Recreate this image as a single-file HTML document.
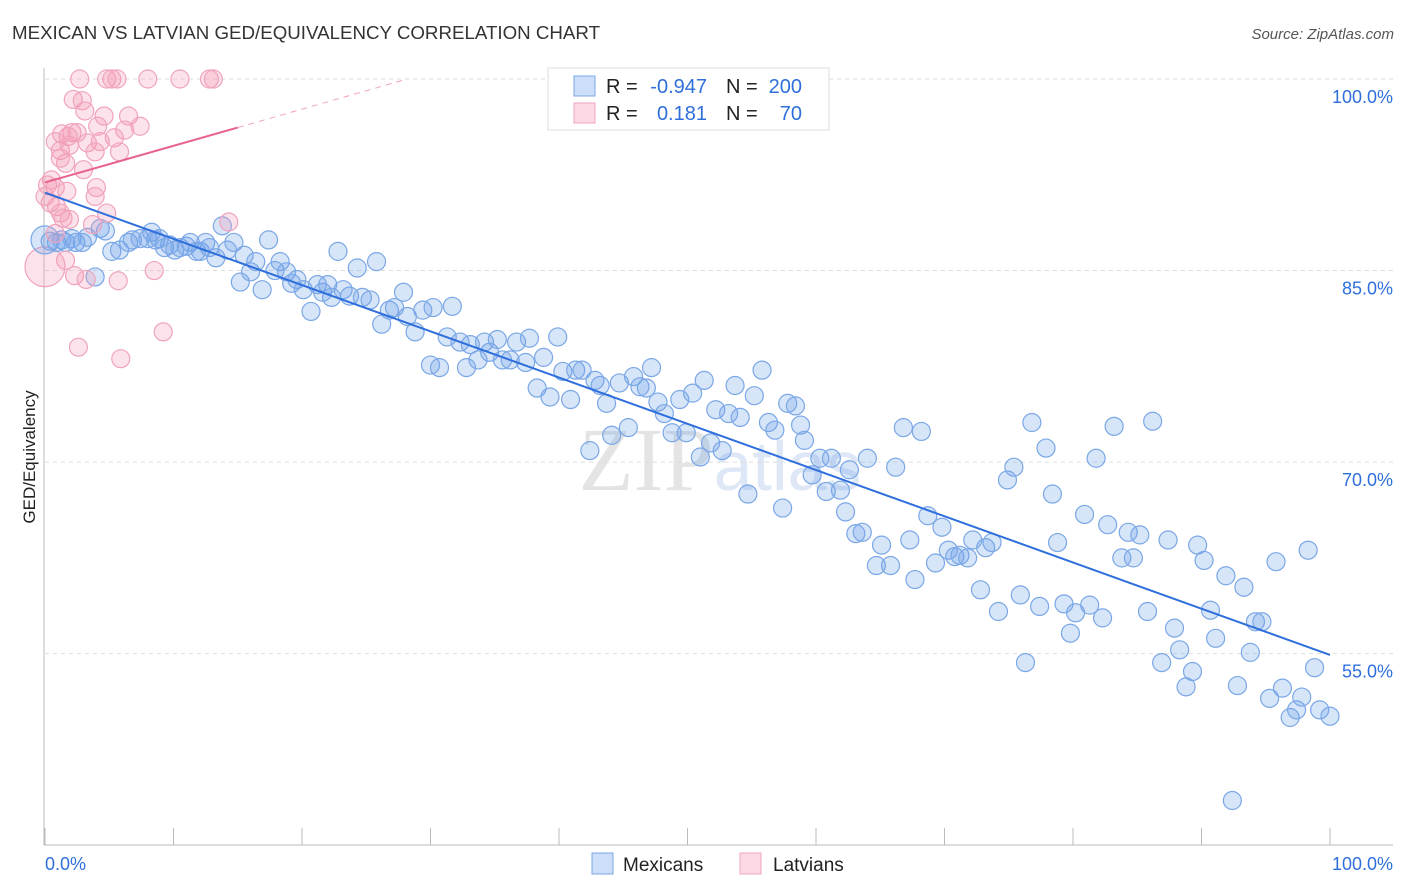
<!DOCTYPE html>
<html><head><meta charset="utf-8"><style>
body{margin:0;background:#fff;font-family:"Liberation Sans",sans-serif;}
svg{display:block}
</style></head><body>
<svg id="chart" width="1406" height="892">
<text x="12" y="39" font-size="18" fill="#333" textLength="588" lengthAdjust="spacingAndGlyphs">MEXICAN VS LATVIAN GED/EQUIVALENCY CORRELATION CHART</text>
<text x="1394" y="39" font-size="15" fill="#555" font-style="italic" text-anchor="end">Source: ZipAtlas.com</text>
<text x="720" y="490" font-size="90" fill="#e4e4e4" text-anchor="middle" font-family="Liberation Serif,serif">ZIP<tspan fill="#dde7f5" font-family="Liberation Sans,sans-serif" font-size="70">atlas</tspan></text>
<g id="grid"></g>
<g id="axes"></g>
<g id="marks"></g>
<text transform="translate(35,457) rotate(-90)" font-size="17" fill="#222" text-anchor="middle">GED/Equivalency</text>
<g>
<rect x="548" y="68" width="281" height="62" fill="#fff" stroke="#ddd"/>
<rect x="574" y="76" width="21" height="20" fill="rgba(110,160,235,0.35)" stroke="#7aa7e6"/>
<rect x="574" y="103" width="21" height="20" fill="rgba(245,150,180,0.35)" stroke="#f0a4bc"/>
<g font-size="20" fill="#222">
<text x="606" y="93">R =</text>
<text x="707" y="93" text-anchor="end" fill="#2f6fdc">-0.947</text>
<text x="726" y="93">N =</text>
<text x="802" y="93" text-anchor="end" fill="#2f6fdc">200</text>
<text x="606" y="120">R =</text>
<text x="707" y="120" text-anchor="end" fill="#2f6fdc">0.181</text>
<text x="726" y="120">N =</text>
<text x="802" y="120" text-anchor="end" fill="#2f6fdc">70</text>
</g>
</g>
<g>
<rect x="592" y="853" width="21" height="21" fill="rgba(110,160,235,0.35)" stroke="#7aa7e6"/>
<text x="623" y="871" font-size="19" fill="#222">Mexicans</text>
<rect x="740" y="853" width="21" height="21" fill="rgba(245,150,180,0.35)" stroke="#f0a4bc"/>
<text x="773" y="871" font-size="19" fill="#222">Latvians</text>
</g>
</svg>
<script>
const yTicks=[100,85,70,55];
const yTickLabels=["100.0%","85.0%","70.0%","55.0%"];
const xTicks=[0,10,20,30,40,50,60,70,80,90,100];
const mexX=[0.4,0.9,1.3,1.6,2.1,2.4,2.9,3.3,3.9,4.3,4.7,5.2,5.8,6.5,6.8,7.4,8.0,8.3,8.6,8.9,9.3,9.7,10.1,10.5,11.0,11.3,11.8,12.1,12.5,12.8,13.3,13.8,14.2,14.7,15.2,15.5,16.0,16.4,16.9,17.4,17.9,18.3,18.8,19.2,19.6,20.1,20.7,21.2,21.6,22.0,22.3,22.8,23.2,23.7,24.3,24.7,25.3,25.8,26.2,26.8,27.2,27.9,28.2,28.8,29.4,30.0,30.2,30.7,31.3,31.7,32.3,32.8,33.1,33.7,34.2,34.6,35.2,35.6,36.2,36.7,37.4,37.7,38.3,38.8,39.3,39.9,40.3,40.9,41.3,41.8,42.4,42.8,43.2,43.7,44.1,44.7,45.4,45.8,46.3,46.8,47.2,47.7,48.2,48.8,49.4,49.9,50.4,51.0,51.3,51.8,52.2,52.7,53.2,53.7,54.1,54.7,55.2,55.8,56.3,56.8,57.4,57.8,58.4,58.8,59.1,59.7,60.3,60.8,61.2,61.9,62.3,62.6,63.1,63.6,64.0,64.7,65.1,65.8,66.2,66.8,67.3,67.7,68.2,68.7,69.3,69.8,70.3,70.8,71.2,71.8,72.2,72.8,73.2,73.7,74.2,74.9,75.4,75.9,76.3,76.8,77.4,77.9,78.4,78.8,79.3,79.8,80.2,80.9,81.3,81.8,82.3,82.7,83.2,83.8,84.3,84.7,85.2,85.8,86.2,86.9,87.4,87.9,88.3,88.8,89.3,89.7,90.2,90.7,91.1,91.9,92.8,93.3,93.8,94.2,94.7,95.3,95.8,96.3,96.9,97.4,97.8,98.3,98.8,99.2,100.0,92.4];
const mexY=[87.3,87.2,87.4,87.2,87.5,87.2,87.2,87.6,84.5,88.3,88.1,86.5,86.6,87.2,87.4,87.5,87.5,88.0,87.4,87.5,86.8,87.0,86.6,86.8,86.9,87.2,86.5,86.5,87.2,86.8,86.0,88.5,86.6,87.2,84.1,86.2,84.9,85.7,83.5,87.4,85.0,85.7,84.9,84.0,84.3,83.5,81.8,83.9,83.3,83.9,82.9,86.5,83.5,83.0,85.2,82.9,82.7,85.7,80.8,81.9,82.1,83.3,81.4,80.2,81.9,77.6,82.1,77.4,79.8,82.2,79.4,77.4,79.2,78.0,79.4,78.6,79.6,78.0,78.0,79.4,77.8,79.7,75.8,78.2,75.1,79.8,77.1,74.9,77.2,77.2,70.9,76.4,76.0,74.6,72.1,76.2,72.7,76.7,75.9,75.8,77.4,74.7,73.8,72.3,74.9,72.3,75.4,70.4,76.4,71.5,74.1,70.9,73.8,76.0,73.5,67.5,75.2,77.2,73.1,72.5,66.4,74.6,74.4,72.9,71.7,69.0,70.3,67.7,70.3,67.8,66.1,69.4,64.4,64.5,70.3,61.9,63.5,61.9,69.6,72.7,63.9,60.8,72.4,65.8,62.1,64.9,63.1,62.6,62.7,62.5,63.9,60.0,63.3,63.7,58.3,68.6,69.6,59.6,54.3,73.1,58.7,71.1,67.5,63.7,58.9,56.6,58.2,65.9,58.8,70.3,57.8,65.1,72.8,62.5,64.5,62.5,64.3,58.3,73.2,54.3,63.9,57.0,55.3,52.4,53.6,63.5,62.3,58.4,56.2,61.1,52.5,60.2,55.1,57.5,57.5,51.5,62.2,52.3,50.0,50.6,51.6,63.1,53.9,50.6,50.1,43.5];
const latX=[2.7,4.8,5.2,5.6,8.0,10.5,12.8,13.1,2.2,2.9,3.1,4.6,6.5,7.4,6.2,4.1,2.1,2.5,1.8,1.3,0.8,3.3,4.3,5.4,1.2,3.9,5.8,1.6,3.0,0.5,0.2,0.8,4.0,1.7,3.9,0.0,0.4,0.9,1.2,4.8,1.4,1.9,3.7,14.3,0.8,1.6,8.5,2.3,3.2,5.7,9.2,2.6,5.9,1.2,1.9];
const latY=[100,100,100,100,100,100,100,100,98.4,98.3,97.5,97.1,97.1,96.3,96.0,96.3,95.8,95.8,95.5,95.7,95.1,95.0,95.1,95.4,94.4,94.3,94.3,93.4,92.9,92.1,91.7,91.5,91.5,91.2,90.8,90.8,90.3,90.0,89.5,89.5,89.1,89.0,88.6,88.8,87.9,85.8,85.0,84.6,84.3,84.2,80.2,79.0,78.1,93.8,94.8];
const bigMex=[0,87.4], bigLat=[0,85.3];
const mexTrend=[[0,91.1],[100,54.9]];
const latTrend=[[0,91.9],[15,96.2]];
const latTrendExt=[[15,96.2],[28.2,100]];

const NS="http://www.w3.org/2000/svg";
const xs=v=>45+v*12.85;
const ys=v=>79+(100-v)*12.77;
function mk(tag,attrs,parent){const e=document.createElementNS(NS,tag);for(const k in attrs)e.setAttribute(k,attrs[k]);parent.appendChild(e);return e;}
const grid=document.getElementById('grid'),axes=document.getElementById('axes'),marks=document.getElementById('marks');
yTicks.forEach((t,i)=>{
  const l=mk('line',{x1:45,x2:1393,y1:ys(t),y2:ys(t),stroke:'#ddd','stroke-dasharray':'4,4'},grid);
  
  
  const tx=mk('text',{x:1393,y:ys(t)+24,'font-size':18,fill:'#2f6fdc','text-anchor':'end'},axes);
  tx.textContent=yTickLabels[i];
  
  
});
const ya=mk('line',{x1:44,x2:44,y1:68,y2:845,stroke:'#bbb'},axes);


const xa=mk('line',{x1:44,x2:1393,y1:845,y2:845,stroke:'#bbb'},axes);


xTicks.forEach(t=>{
  const l=mk('line',{x1:xs(t),x2:xs(t),y1:828,y2:845,stroke:'#bbb'},axes);
  
  
});
const xl0=mk('text',{x:45,y:870,'font-size':18,fill:'#2f6fdc'},axes);xl0.textContent='0.0%';


const xl1=mk('text',{x:1393,y:870,'font-size':18,fill:'#2f6fdc','text-anchor':'end'},axes);xl1.textContent='100.0%';



function pt(x,y,r,fill,stroke,name){
  const c=mk('circle',{cx:xs(x),cy:ys(y),r:r,fill:fill,stroke:stroke,'stroke-width':1.2},marks);
  
  
}
const bF='rgba(110,160,235,0.28)',bS='#7aa7e6',pF='rgba(245,150,180,0.28)',pS='#f0a4bc';
pt(bigLat[0],bigLat[1],20,pF,pS,'latvian-point');
pt(bigMex[0],bigMex[1],14,bF,bS,'mexican-point');
mexX.forEach((x,i)=>pt(x,mexY[i],9,bF,bS,'mexican-point'));
latX.forEach((x,i)=>pt(x,latY[i],9,pF,pS,'latvian-point'));
const t1=mk('line',{x1:xs(mexTrend[0][0]),y1:ys(mexTrend[0][1]),x2:xs(mexTrend[1][0]),y2:ys(mexTrend[1][1]),stroke:'#2f6fdc','stroke-width':2},marks);


const t2=mk('line',{x1:xs(latTrend[0][0]),y1:ys(latTrend[0][1]),x2:xs(latTrend[1][0]),y2:ys(latTrend[1][1]),stroke:'#e8628e','stroke-width':2},marks);


const t3=mk('line',{x1:xs(latTrendExt[0][0]),y1:ys(latTrendExt[0][1]),x2:xs(latTrendExt[1][0]),y2:ys(latTrendExt[1][1]),stroke:'#f0a4bc','stroke-width':1,'stroke-dasharray':'6,5'},marks);


</script>
</body></html>
